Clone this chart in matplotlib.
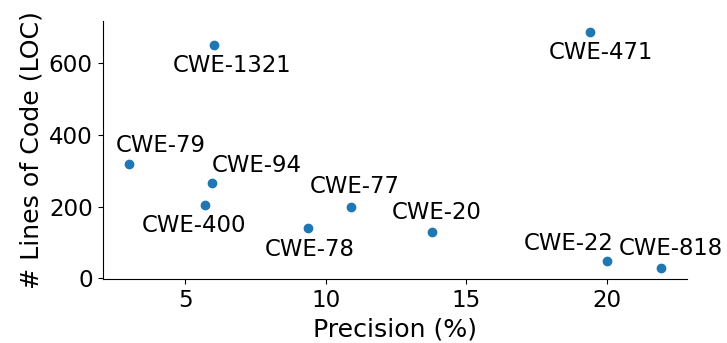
import matplotlib
matplotlib.use('Agg')
import matplotlib.pyplot as plt

# CWE precision vs. lines of code
cwes = ['CWE-79', 'CWE-94', 'CWE-400', 'CWE-78', 'CWE-77', 'CWE-20',
        'CWE-471', 'CWE-22', 'CWE-818', 'CWE-1321']
precision = [3.0, 5.95, 5.7, 9.37, 10.89, 13.79, 19.4, 20.0, 21.92, 6.02]
loc = [318, 265, 204, 139, 199, 130, 686, 48, 30, 651]

# label offsets in pixels (dx, dy), text centred
offsets = {
    'CWE-79': (32, 19), 'CWE-94': (45, 18), 'CWE-400': (-11, -20),
    'CWE-78': (2, -21), 'CWE-77': (4, 20), 'CWE-20': (4, 19),
    'CWE-471': (11, -20), 'CWE-22': (-38, 18), 'CWE-818': (10, 19),
    'CWE-1321': (18, -21),
}

fig, ax = plt.subplots(figsize=(7.27, 3.43), dpi=100)
fig.subplots_adjust(left=0.141, right=0.9454, top=0.9397, bottom=0.1857)

ax.scatter(precision, loc, color='#1f77b4', s=36, zorder=3)
for name, x, y in zip(cwes, precision, loc):
    ax.annotate(name, (x, y), xytext=offsets[name], textcoords='offset pixels',
                ha='center', va='center', fontsize=16.4)

ax.set_xlabel('Precision (%)', fontsize=18.2)
ax.set_ylabel('# Lines of Code (LOC)', fontsize=18.2)
ax.tick_params(labelsize=16.6)
ax.set_xticks([5, 10, 15, 20])
ax.set_yticks([0, 200, 400, 600])
ax.spines['top'].set_visible(False)
ax.spines['right'].set_visible(False)

fig.savefig('out.png', dpi=100)
